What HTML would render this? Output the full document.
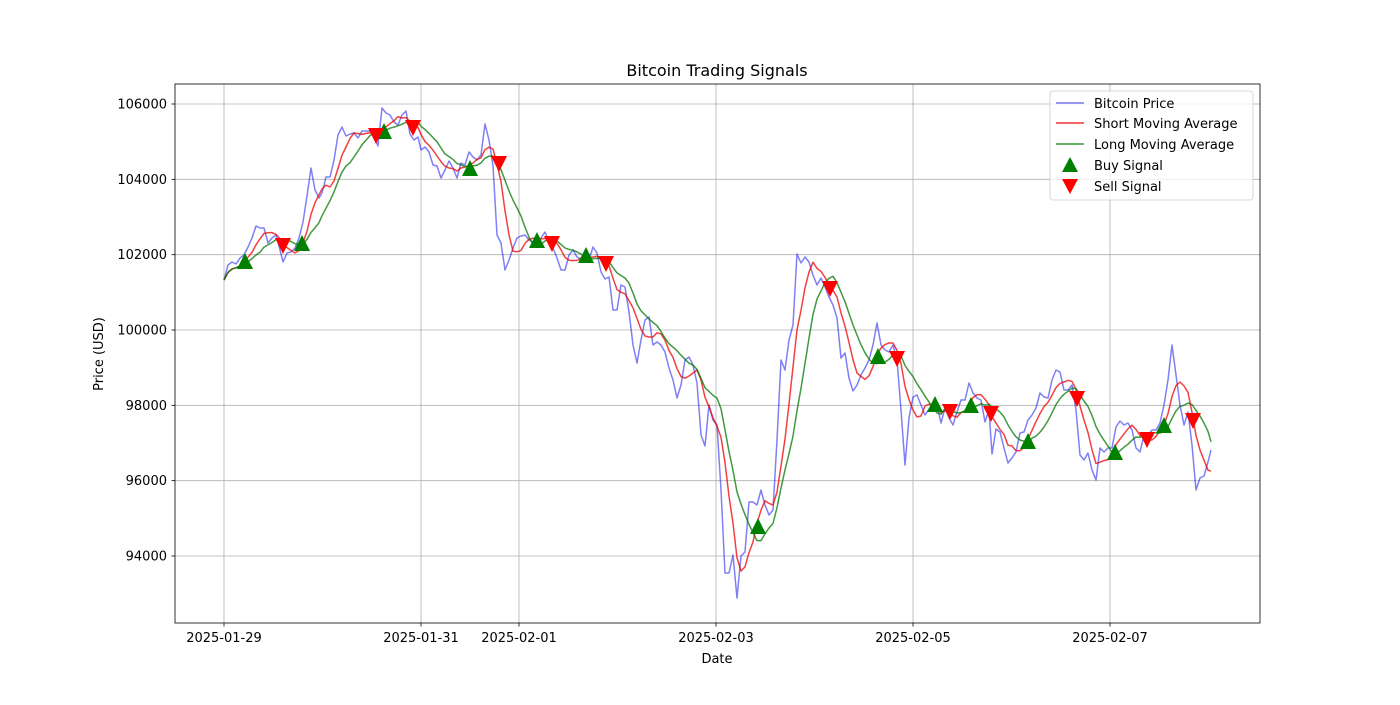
<!DOCTYPE html>
<html><head><meta charset="utf-8"><style>
body{margin:0;background:#fff;}
svg text{font-family:"DejaVu Sans","Liberation Sans",sans-serif;fill:#000;}
</style></head><body>
<svg id="s" width="1400" height="700" xmlns="http://www.w3.org/2000/svg">
<rect width="1400" height="700" fill="#fff"/>
<g id="grid" stroke="#b0b0b0" stroke-width="0.8"></g>
<g id="lines" fill="none" stroke-linejoin="round"></g>
<g id="marks"></g>
<rect x="175" y="84" width="1085" height="539" fill="none" stroke="#000" stroke-width="0.8"/>
<g id="ticks" stroke="#000" stroke-width="0.8"></g>
<g id="labels" font-size="13"></g>
<text x="717" y="76" font-size="16" text-anchor="middle">Bitcoin Trading Signals</text>
<text x="717" y="663" font-size="13" text-anchor="middle">Date</text>
<text transform="translate(103,354) rotate(-90)" font-size="13" text-anchor="middle">Price (USD)</text>
<g>
<rect x="1050" y="91" width="203" height="109" rx="3" fill="#fff" fill-opacity="0.8" stroke="#ccc" stroke-width="0.8"/>
<line x1="1056" y1="103" x2="1084" y2="103" stroke="#7777f0" stroke-width="1.5"/>
<line x1="1056" y1="123" x2="1084" y2="123" stroke="#ee3333" stroke-width="1.5"/>
<line x1="1056" y1="144" x2="1084" y2="144" stroke="#339933" stroke-width="1.5"/>
<polygon points="1070,157 1078,172 1062,172" fill="green"/>
<polygon points="1062,179 1078,179 1070,194" fill="red"/>
<text x="1094" y="108" font-size="13">Bitcoin Price</text>
<text x="1094" y="128" font-size="13">Short Moving Average</text>
<text x="1094" y="149" font-size="13">Long Moving Average</text>
<text x="1094" y="170" font-size="13">Buy Signal</text>
<text x="1094" y="191" font-size="13">Sell Signal</text>
</g>
</svg>
<script>
var NS="http://www.w3.org/2000/svg";
function el(p,t,a,txt){var e=document.createElementNS(NS,t);for(var k in a)e.setAttribute(k,a[k]);if(txt)e.textContent=txt;document.getElementById(p).appendChild(e);return e;}
var yt=[94000,96000,98000,100000,102000,104000,106000];
yt.forEach(function(v){var y=556-(v-94000)*0.0376667;
el("grid","line",{x1:175,x2:1260,y1:y,y2:y});
el("ticks","line",{x1:171.5,x2:175,y1:y,y2:y});
el("labels","text",{x:167,y:y+4.5,"text-anchor":"end"},String(v));});
var xt=[[224,"2025-01-29"],[421,"2025-01-31"],[519,"2025-02-01"],[716,"2025-02-03"],[913,"2025-02-05"],[1110,"2025-02-07"]];
xt.forEach(function(t){el("grid","line",{x1:t[0],x2:t[0],y1:84,y2:623});
el("ticks","line",{x1:t[0],x2:t[0],y1:623,y2:626.5});
el("labels","text",{x:t[0],y:642,"text-anchor":"middle"},t[1]);});
var P=[[224,280],[228,265],[232,262],[236,264],[240,258],[244,255],[248,247],[252,238],[256,226],[260,228],[264,228],[268,243],[272,238],[276,235],[280,250],[283,262],[287,253],[291,252],[295,248],[299,238],[303,222],[307,196],[311,168],[315,190],[319,198],[322,193],[326,177],[330,177],[334,160],[338,135],[342,127],[346,136],[350,134],[354,133],[358,138],[362,131],[366,131],[370,131],[374,136],[378,146],[382,108],[386,113],[390,115],[394,122],[398,125],[402,115],[406,111],[410,134],[414,140],[418,137],[421,150],[425,147],[429,152],[433,165],[437,166],[441,178],[445,170],[449,161],[453,168],[457,178],[461,163],[465,165],[469,152],[473,157],[477,160],[481,155],[485,124],[489,140],[493,166],[497,235],[501,243],[505,270],[509,260],[513,248],[517,238],[521,236],[525,235],[529,240],[533,242],[537,240],[541,238],[545,232],[549,241],[553,248],[557,258],[561,270],[565,270],[569,255],[573,250],[577,257],[581,259],[585,262],[589,260],[593,247],[597,253],[601,272],[605,279],[609,277],[613,310],[617,310],[621,285],[625,287],[629,312],[633,345],[637,363],[641,340],[645,320],[649,317],[653,345],[657,342],[661,345],[665,352],[669,368],[673,380],[677,398],[681,385],[685,360],[689,357],[693,365],[697,383],[701,435],[705,446],[709,405],[713,420],[717,425],[721,490],[725,573],[729,573],[733,555],[737,598],[741,556],[745,552],[749,502],[753,502],[757,505],[761,490],[765,505],[769,515],[773,510],[777,440],[781,360],[785,370],[789,340],[793,325],[797,254],[801,263],[805,257],[809,262],[813,275],[817,285],[821,278],[825,287],[829,297],[833,305],[837,318],[841,358],[845,353],[849,378],[853,391],[857,385],[861,375],[865,368],[869,360],[873,345],[877,323],[881,345],[885,350],[889,352],[893,345],[897,360],[901,410],[905,465],[909,418],[913,397],[917,395],[921,405],[925,415],[929,409],[933,410],[937,405],[941,423],[945,408],[949,418],[953,425],[957,412],[961,400],[965,400],[969,383],[973,393],[977,398],[981,400],[985,422],[989,410],[992,454],[996,429],[1000,432],[1004,448],[1008,463],[1012,458],[1016,452],[1020,433],[1024,432],[1028,420],[1032,415],[1036,408],[1040,393],[1044,397],[1048,398],[1052,380],[1056,370],[1060,372],[1064,390],[1068,390],[1072,385],[1076,410],[1080,455],[1084,460],[1088,453],[1092,470],[1096,480],[1100,448],[1104,452],[1108,448],[1112,448],[1116,427],[1120,421],[1124,425],[1128,423],[1132,430],[1136,448],[1140,452],[1144,435],[1148,435],[1152,430],[1156,430],[1160,423],[1164,405],[1168,380],[1172,345],[1176,375],[1180,405],[1184,425],[1188,412],[1192,445],[1196,490],[1200,478],[1204,476],[1208,462],[1211,450]];
function ma(w){return P.map(function(p,i){var s=0,n=0;for(var j=Math.max(0,i-w+1);j<=i;j++){s+=P[j][1];n++;}return [p[0],s/n];});}
function path(a,c,op){el("lines","polyline",{points:a.map(function(p){return p[0]+","+p[1].toFixed(1);}).join(" "),stroke:c,"stroke-width":1.5,"stroke-opacity":op});}
path(P,"#0000ee",0.5);path(ma(5),"#ee0000",0.75);path(ma(10),"#007700",0.75);
var B=[[245,262],[302,244],[384,132],[470,169],[537,241],[586,256],[758,527],[878,357],[935,405],[971,406],[1028,442],[1115,453],[1164,426]];
var S=[[283,245],[376,135],[413,127],[499,163],[552,243],[606,263],[830,288],[897,358],[950,411],[991,413],[1077,398],[1147,439],[1193,420]];
B.forEach(function(p){el("marks","polygon",{points:(p[0])+","+(p[1]-9)+" "+(p[0]+8)+","+(p[1]+7)+" "+(p[0]-8)+","+(p[1]+7),fill:"green"});});
S.forEach(function(p){el("marks","polygon",{points:(p[0]-8)+","+(p[1]-7)+" "+(p[0]+8)+","+(p[1]-7)+" "+(p[0])+","+(p[1]+9),fill:"red"});});
</script>
</body></html>
